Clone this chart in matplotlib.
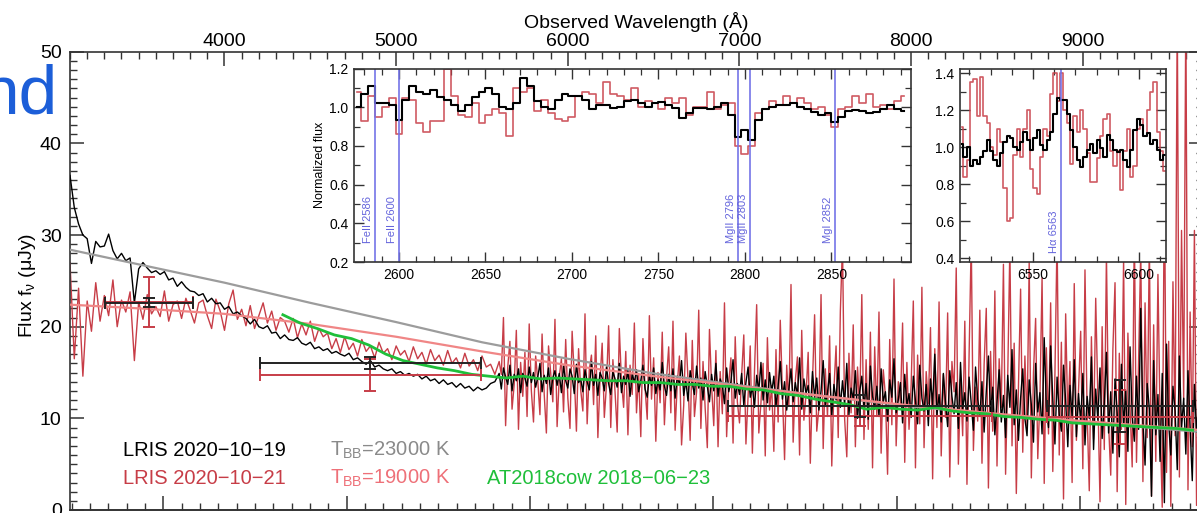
import numpy as np
import matplotlib
matplotlib.use("Agg")
import matplotlib.pyplot as plt
from matplotlib.ticker import MultipleLocator, FixedLocator, NullFormatter, FormatStrFormatter

plt.rcParams['font.family'] = ['Liberation Sans', 'DejaVu Sans']
plt.rcParams['mathtext.fontset'] = 'custom'
plt.rcParams['mathtext.rm'] = 'Liberation Sans'
plt.rcParams['mathtext.it'] = 'Liberation Sans:italic'

# ---------------- data ----------------
# LRIS spectra (observed frame, flux in uJy):
#   *_lo : 3100-5575 A in 25 A steps, *_hi : 5600-9687.5 A in 12.5 A steps
lo_start, lo_step = 3100, 25
hi_start, hi_step = 5600, 12.5

lris_1019_lo = [
    36.5, 33.0, 31.2, 30.0, 29.6, 26.9, 29.3, 28.7, 28.8, 30.1, 28.3, 27.4, 28.0, 27.2, 27.5, 22.6, 26.3, 27.0, 26.4, 25.9,
    26.1, 25.7, 26.0, 25.1, 25.3, 24.4, 24.9, 24.3, 23.9, 23.8, 23.4, 23.6, 22.7, 23.1, 22.5, 22.6, 21.9, 22.2, 21.4, 21.6,
    21.2, 20.9, 20.3, 20.8, 20.0, 19.8, 20.1, 19.3, 19.4, 18.7, 19.1, 18.6, 18.5, 18.8, 18.2, 18.0, 18.3, 17.6, 17.8, 17.4,
    17.6, 17.1, 17.3, 17.0, 16.8, 17.1, 16.4, 16.6, 16.2, 15.9, 16.3, 15.6, 15.8, 15.4, 15.2, 15.4, 14.9, 15.1, 14.7, 14.9,
    14.6, 14.8, 14.3, 14.6, 14.1, 14.3, 13.8, 14.2, 13.7, 13.9, 13.4, 13.8, 13.3, 13.5, 13.0, 13.4, 13.1, 13.3, 13.8, 14.0,
]
lris_1019_hi = [
    14.9, 13.2, 15.5, 14.5, 13.7, 15.8, 13.0, 14.8, 14.1, 15.4, 12.8, 14.9, 14.4, 13.5, 15.6, 13.9,
    15.0, 13.4, 14.5, 16.0, 12.9, 14.7, 13.8, 15.5, 12.6, 14.4, 15.2, 13.6, 14.9, 12.8, 15.7, 14.1,
    13.3, 15.4, 14.6, 12.7, 15.9, 13.9, 14.3, 12.9, 15.3, 14.0, 13.1, 16.2, 13.6, 14.8, 12.5, 15.0,
    14.4, 13.0, 15.6, 13.8, 12.6, 15.1, 14.3, 13.4, 16.0, 12.8, 14.6, 13.7, 15.2, 12.4, 14.9, 13.9,
    15.3, 12.9, 14.1, 15.8, 13.2, 12.3, 14.7, 13.6, 15.5, 12.7, 14.2, 13.1, 16.1, 13.5, 12.5, 14.8,
    13.0, 15.4, 12.2, 14.6, 13.7, 16.3, 12.5, 14.1, 11.9, 15.2, 13.8, 12.6, 15.7, 13.3, 14.4, 12.0,
    15.1, 13.5, 11.8, 14.8, 13.0, 16.0, 12.4, 14.3, 13.6, 11.6, 15.5, 12.9, 14.0, 16.4, 12.2, 13.8,
    12.6, 14.9, 11.4, 13.9, 15.6, 12.3, 13.4, 11.2, 14.7, 13.0, 16.1, 12.0, 14.2, 11.7, 15.0, 12.8,
    14.6, 11.3, 13.5, 16.2, 12.1, 14.0, 10.9, 13.2, 15.4, 11.8, 13.9, 12.5, 16.6, 11.0, 14.3, 12.7,
    13.6, 10.6, 15.1, 12.3, 14.4, 10.9, 13.0, 16.3, 11.5, 12.8, 14.9, 10.3, 13.7, 12.0, 15.6, 11.2,
    14.1, 11.6, 16.0, 10.4, 13.3, 12.1, 15.2, 10.0, 12.9, 14.6, 11.1, 13.8, 9.9, 15.7, 12.4, 11.0,
    13.5, 10.2, 15.4, 11.8, 12.9, 9.7, 14.2, 12.3, 16.5, 10.6, 12.0, 13.9, 9.5, 14.8, 11.4, 12.7,
    10.1, 14.6, 11.9, 9.4, 15.8, 12.2, 10.8, 13.7, 9.2, 14.3, 11.5, 17.0, 10.3, 12.6, 9.6, 14.9,
    11.8, 9.1, 15.2, 12.4, 10.5, 13.9, 8.9, 16.1, 11.0, 12.8, 9.7, 14.5, 11.6, 8.7, 15.6, 12.1,
    10.2, 14.0, 8.5, 12.9, 16.8, 10.6, 13.4, 8.2, 11.7, 15.3, 9.6, 12.5, 7.9, 14.7, 11.2, 17.5,
    9.3, 13.1, 7.6, 12.2, 15.4, 10.0, 8.1, 14.2, 11.5, 7.4, 16.0, 10.7, 12.8, 8.3, 18.8, 11.3,
    9.0, 17.9, 12.0, 7.2, 14.5, 10.4, 8.6, 15.8, 11.9, 6.9, 13.6, 10.1, 16.4, 8.0, 12.7, 9.5,
    14.9, 7.1, 12.4, 10.0, 16.7, 6.6, 13.2, 9.8, 15.5, 7.8, 11.6, 17.2, 8.4, 12.9, 6.2, 14.3,
    10.6, 5.8, 15.9, 9.1, 13.0, 6.4, 17.8, 10.2, 7.5, 14.6, 8.8, 22.0, 9.6, 4.9, 13.8, 11.0,
    1.5, 16.3, 8.2, 12.6, 5.3, 14.9, 0.8, 18.1, 9.4, 6.0, 13.5, 10.8, 4.4, 16.8, 8.9, 12.2,
    6.1, 15.2, 9.0, 3.2, 13.7, 8.5, 11.9, 7.0,
]

lris_1021_lo = [
    27.0, 16.5, 24.2, 14.6, 22.8, 19.5, 24.8, 20.6, 23.4, 21.2, 25.1, 20.0, 22.9, 21.6, 23.8, 16.3, 22.7, 20.8, 23.5, 21.4,
    22.2, 21.1, 23.9, 20.6, 22.4, 22.8, 20.9, 23.1, 21.8, 20.4, 22.6, 22.9, 21.2, 19.8, 23.0, 21.7, 19.6, 22.5, 24.0, 20.8,
    21.9, 20.1, 22.3, 19.8, 21.2, 22.6, 20.4, 21.7, 19.6, 21.0, 20.6, 19.4, 20.9, 18.8, 20.3, 19.1, 20.6, 18.4, 19.8, 18.9,
    19.3, 17.6, 18.7, 17.2, 18.9, 17.5, 18.2, 16.8, 18.6, 17.3, 17.9, 16.6, 18.3, 17.1, 17.6, 16.4, 17.9, 16.9, 17.4, 16.2,
    17.8, 16.5, 17.2, 15.9, 17.5, 16.3, 16.9, 15.8, 17.4, 16.0, 16.6, 15.5, 17.1, 15.7, 16.4, 15.2, 16.8, 15.6, 15.9, 14.8,
]
lris_1021_hi = [
    16.2, 14.8, 21.0, 9.2, 15.6, 18.4, 11.0, 13.7, 19.6, 8.8, 16.1, 12.4, 17.2, 10.2, 20.3, 13.0,
    9.6, 16.8, 14.1, 10.4, 19.2, 12.6, 8.4, 17.9, 15.0, 11.8, 20.8, 9.1, 14.5, 16.5, 10.7, 18.6,
    12.2, 8.9, 19.5, 14.7, 8.6, 17.6, 13.1, 10.8, 21.4, 9.4, 15.3, 16.9, 11.5, 19.0, 7.9, 14.2,
    18.2, 10.1, 13.6, 20.1, 9.0, 16.4, 12.9, 8.5, 19.8, 14.0, 11.2, 17.3, 8.2, 15.8, 12.6, 20.4,
    10.6, 14.9, 8.0, 18.7, 13.3, 9.9, 21.2, 12.1, 16.6, 7.5, 15.0, 11.7, 19.4, 9.3, 14.4, 17.8,
    10.6, 20.6, 8.7, 13.8, 16.8, 7.1, 11.4, 19.3, 14.2, 7.6, 18.5, 10.2, 12.9, 21.8, 8.9, 16.2,
    11.1, 6.8, 19.7, 13.5, 9.2, 17.4, 6.9, 15.1, 10.5, 22.6, 8.0, 13.9, 16.6, 7.3, 18.9, 11.8,
    9.5, 14.7, 19.1, 7.2, 12.4, 17.9, 6.2, 15.3, 22.4, 8.4, 11.7, 16.0, 5.9, 18.8, 10.9, 13.6,
    6.4, 17.5, 9.6, 20.7, 12.8, 5.5, 15.8, 11.3, 24.6, 7.4, 14.1, 16.7, 6.0, 19.6, 9.8, 12.5,
    17.2, 5.1, 13.9, 21.3, 8.6, 11.1, 23.5, 6.7, 15.4, 10.2, 19.0, 4.8, 13.2, 17.9, 7.9, 21.7,
    29.0, 9.9, 5.8, 17.1, 10.6, 20.2, 6.9, 15.6, 11.0, 23.5, 7.7, 16.4, 8.8, 19.4, 4.6, 17.8,
    10.2, 21.6, 6.2, 15.3, 12.5, 3.9, 18.6, 9.3, 25.2, 7.0, 14.0, 11.6, 20.4, 5.2, 16.1, 8.8,
    13.7, 22.8, 4.6, 16.9, 9.4, 24.3, 6.8, 15.1, 11.6, 19.9, 3.4, 17.6, 9.0, 22.7, 5.9, 14.8,
    10.1, 21.5, 3.6, 16.2, 12.9, 26.4, 5.0, 14.3, 8.1, 20.6, 2.8, 17.0, 29.5, 6.5, 13.4, 9.7,
    21.8, 5.1, 15.9, 22.0, 2.4, 17.3, 8.6, 23.9, 4.8, 16.5, 11.2, 26.8, 3.9, 14.6, 28.8, 7.0,
    18.2, 1.8, 13.5, 24.1, 6.3, 16.8, 9.2, 27.0, 3.5, 15.0, 20.9, 5.6, 12.2, 25.3, 2.9, 17.7,
    8.3, 22.6, 4.2, 14.9, 30.0, 6.0, 18.3, 1.2, 21.4, 9.9, 16.2, 3.0, 24.7, 7.6, 13.1, 19.5,
    4.5, 26.2, 10.6, 2.1, 18.9, 7.7, 23.1, 12.4, 0.9, 20.0, 6.6, 27.9, 9.4, 3.8, 17.5, 24.8,
    2.0, 17.1, 8.8, 27.4, 0.6, 19.3, 11.2, 4.7, 31.0, 5.2, 16.4, 28.5, 3.1, 22.6, 7.9, 29.5,
    1.5, 20.2, 5.3, 25.7, 9.6, 0.3, 36.7, 4.1, 18.4, 0.4, 24.9, 8.1, 55.0, 3.6, 30.5, 12.0,
    55.0, 2.2, 21.6, 6.9, 30.5, 0.5, 15.8, 9.2,
]

# AT2018cow comparison spectrum, 100 A steps from 4340 A
cow_start, cow_step = 4340, 100
cow_flux = [21.3, 20.4, 19.8, 19.1, 18.7, 18.0, 17.0, 16.3, 15.9, 15.5, 15.2, 14.8, 14.6, 14.4,
            14.6, 14.3, 14.4, 14.3, 14.2, 14.1, 14.1, 13.9, 13.9, 13.7, 13.7, 13.5, 13.5, 13.2,
            13.1, 12.7, 12.5, 12.1, 11.8, 11.5, 11.0, 11.2, 11.0, 10.9, 11.2, 10.8, 10.6, 10.5,
            10.2, 10.1, 9.9, 9.8, 9.5, 9.4, 9.3, 9.2, 9.1, 9.0, 8.9, 8.7]

# blackbody curves
bb_wave = [3100, 3500, 4000, 4500, 5000, 5500, 6000, 6500, 7000, 7500, 8000, 8500, 9000, 9500, 9700]
bb_23000 = [28.4, 26.8, 24.8, 22.6, 20.5, 18.3, 16.5, 14.9, 13.6, 12.4, 11.3, 10.4, 9.6, 8.8, 8.5]
bb_19000 = [22.4, 22.0, 21.4, 20.3, 18.9, 17.3, 15.8, 14.6, 13.5, 12.4, 11.4, 10.5, 9.7, 9.0, 8.7]

# broadband photometry
phot_wave = [3562, 4850, 7701, 9215]
phot_width = [257, 646, 769, 425]
phot_1019 = [22.6, 16.0, 11.35, 11.35]
phot_1019_err = [0.5, 0.65, 1.2, 2.8]
phot_1021 = [22.7, 14.7, 10.3, 10.15]
phot_1021_err = [2.7, 1.75, 1.1, 2.9]

# normalised spectra around the MgII / FeII absorption (rest frame, 4 A bins from 2576 A)
uv_start, uv_step = 2576, 4
uv_1019 = [1.00, 1.07, 1.11, 1.02, 1.02, 1.01, 0.935, 1.04, 1.11, 1.08, 1.07, 1.09, 1.055, 1.04, 1.01, 0.98,
           1.01, 1.055, 1.08, 1.10, 1.07, 1.00, 0.99, 1.02, 1.15, 1.11, 1.03, 1.00, 0.99, 1.04, 1.07, 1.06,
           1.06, 1.04, 0.99, 1.01, 1.01, 0.995, 1.00, 1.03, 1.04, 1.02, 1.00, 1.02, 1.025, 1.01, 0.995, 0.945,
           0.97, 0.995, 0.995, 0.99, 1.00, 1.02, 0.96, 0.845, 0.885, 0.83, 0.935, 0.99, 1.00, 1.01, 1.01, 1.02,
           1.00, 0.99, 0.975, 0.96, 0.97, 0.925, 0.95, 0.98, 0.985, 0.98, 0.97, 0.975, 0.99, 1.01, 0.99, 0.98]
uv_1021 = [1.08, 0.93, 1.06, 0.95, 1.00, 1.05, 0.86, 1.05, 1.04, 0.92, 0.87, 0.93, 0.93, 1.20, 1.06, 0.96,
           0.95, 1.02, 0.92, 0.96, 0.99, 0.97, 0.85, 1.10, 1.08, 1.10, 0.98, 1.04, 0.97, 0.94, 0.93, 0.95,
           1.06, 1.08, 1.07, 1.02, 1.13, 1.07, 1.06, 1.04, 1.10, 1.00, 1.03, 1.02, 0.99, 1.05, 1.02, 1.05,
           0.96, 1.00, 1.00, 1.08, 0.99, 1.01, 1.02, 0.80, 0.76, 0.80, 0.97, 0.99, 1.03, 1.01, 1.06, 1.02,
           1.05, 1.02, 0.99, 1.00, 0.96, 0.90, 0.99, 1.00, 1.06, 1.02, 1.07, 1.00, 1.01, 0.99, 1.03, 1.06]
uv_lines = [2586, 2600, 2796, 2803, 2852]
uv_line_names = ['FeII 2586', 'FeII 2600', 'MgII 2796', 'MgII 2803', 'MgI 2852']

# normalised spectra around H-alpha (rest frame)
ha_range = (6516.4, 6612.3)
ha_1019 = [1.02, 0.95, 1.0, 0.9, 0.93, 0.91, 0.95, 0.98, 1.04, 0.98, 0.93, 0.9, 0.97, 1.03, 1.06, 1.05,
           1.0, 0.985, 1.03, 1.085, 1.04, 0.985, 1.05, 1.095, 1.01, 0.985, 1.04, 1.085, 1.18, 1.265, 1.255,
           1.255, 1.18, 1.095, 1.0, 0.93, 0.895, 0.95, 0.985, 1.02, 0.97, 1.04, 0.995, 0.95, 1.065, 1.04,
           0.985, 0.975, 0.985, 0.93, 0.895, 0.985, 1.095, 1.15, 1.12, 1.06, 1.075, 1.02, 1.04, 0.985, 0.93, 0.96]
ha_1021 = [1.11, 0.84, 0.93, 1.35, 1.37, 1.17, 1.38, 1.17, 1.13, 1.0, 0.96, 1.1, 1.03, 0.78, 0.6, 0.62,
           0.96, 1.1, 0.95, 1.1, 1.2, 0.88, 0.78, 0.75, 0.95, 1.1, 1.06, 1.29, 1.4, 1.25, 1.4, 1.2, 1.13,
           0.91, 1.17, 1.08, 1.2, 1.1, 0.97, 0.81, 0.81, 0.94, 1.06, 1.15, 1.18, 0.98, 0.9, 0.98, 0.77, 0.98,
           1.1, 0.84, 0.9, 1.1, 1.15, 1.06, 1.2, 1.3, 1.35, 1.08, 0.98, 0.87]
ha_line = 6563

# ---------------- style ----------------
C_BLACK = '#000000'
C_RED = '#c73d47'
C_GRAY = '#9c9c9c'
C_PINK = '#f08686'
C_GREEN = '#1fbf3a'
C_LINE = '#7474e8'
C_SPINE = '#333333'

W, H = 1197, 513
fig = plt.figure(figsize=(W / 100, H / 100), dpi=100)


def box(x0, y0, x1, y1):
    """Axes rectangle from pixel corners (top-left origin)."""
    return [x0 / W, 1 - y1 / H, (x1 - x0) / W, (y1 - y0) / H]


def fpos(x, y):
    return x / W, 1 - y / H


ax = fig.add_axes(box(70, 51.7, 1203, 510))

wave_lo = lo_start + lo_step * np.arange(len(lris_1019_lo))
wave_hi = hi_start + hi_step * np.arange(len(lris_1019_hi))
wave = np.concatenate([wave_lo, wave_hi])
flux_1019 = np.concatenate([lris_1019_lo, lris_1019_hi])
flux_1021 = np.concatenate([lris_1021_lo, lris_1021_hi])
cow_wave = cow_start + cow_step * np.arange(len(cow_flux))

ax.plot(wave, flux_1021, color=C_RED, lw=1.0, zorder=2)
ax.plot(wave, flux_1019, color=C_BLACK, lw=1.0, zorder=3)
ax.plot(bb_wave, bb_23000, color=C_GRAY, lw=1.6, zorder=4)
ax.plot(bb_wave, bb_19000, color=C_PINK, lw=1.6, zorder=4)
ax.plot(cow_wave, cow_flux, color=C_GREEN, lw=2.0, zorder=5)
ax.errorbar(phot_wave, phot_1021, xerr=phot_width, yerr=phot_1021_err, fmt='none',
            ecolor=C_RED, elinewidth=1.4, capsize=4, capthick=1.4, zorder=6)
ax.errorbar(phot_wave, phot_1019, xerr=phot_width, yerr=phot_1019_err, fmt='none',
            ecolor='#222222', elinewidth=1.4, capsize=4, capthick=1.4, zorder=6)

ax.set_xlim(3100, 9700)
ax.set_ylim(0, 50)
for s in ax.spines.values():
    s.set_color(C_SPINE)
    s.set_linewidth(1.2)

ax.xaxis.set_major_locator(MultipleLocator(1000))
ax.xaxis.set_minor_locator(MultipleLocator(100))
ax.yaxis.set_major_locator(MultipleLocator(10))
ax.yaxis.set_minor_locator(MultipleLocator(1))
ax.xaxis.tick_top()
ax.tick_params(axis='x', which='both', direction='in', top=True, bottom=False,
               labeltop=True, labelbottom=False, labelsize=14, color=C_SPINE, pad=1.5)
ax.tick_params(axis='y', which='both', direction='in', left=True, right=True,
               labelsize=14, color=C_SPINE, pad=6)
ax.tick_params(which='major', length=10, width=1.1)
ax.tick_params(which='minor', length=5, width=1.0)
ax.xaxis.set_label_position('top')
ax.set_xlabel('Observed Wavelength (Å)', fontsize=14, labelpad=3)
ax.set_ylabel('Flux f$_\\mathregular{ν}$ (μJy)', fontsize=14)
ax.yaxis.set_label_coords(-0.028, 0.49)

# rest-frame ticks along the lower edge
secx = ax.secondary_xaxis('bottom')
secx.xaxis.set_major_locator(FixedLocator(np.arange(3644, 9700, 1068)))
secx.xaxis.set_minor_locator(FixedLocator(np.arange(3644 - 5 * 106.8, 9700, 106.8)))
secx.xaxis.set_major_formatter(NullFormatter())
secx.tick_params(axis='x', which='both', direction='in', color=C_SPINE, labelbottom=False)
secx.tick_params(which='major', length=10, width=1.1)
secx.tick_params(which='minor', length=5, width=1.0)
secx.spines['bottom'].set_color(C_SPINE)
secx.spines['bottom'].set_linewidth(1.2)

# key
fig.text(*fpos(123, 450), 'LRIS 2020−10−19', color=C_BLACK, fontsize=14.5, va='center')
fig.text(*fpos(123, 478), 'LRIS 2020−10−21', color=C_RED, fontsize=14.5, va='center')
fig.text(*fpos(330, 450), 'T$_\\mathregular{BB}$=23000 K', color='#8a8a8a', fontsize=14.5, va='center')
fig.text(*fpos(330, 478), 'T$_\\mathregular{BB}$=19000 K', color='#ee7078', fontsize=14.5, va='center')
fig.text(*fpos(487, 478), 'AT2018cow 2018−06−23', color=C_GREEN, fontsize=14.5, va='center')

fig.text(*fpos(58, 113), 'nd', color='#1c5ed8', fontsize=50, ha='right', va='baseline')


def style_inset(a):
    for s in a.spines.values():
        s.set_color(C_SPINE)
        s.set_linewidth(1.2)
    a.tick_params(which='both', direction='in', top=True, right=True, labelsize=10,
                  color=C_SPINE, pad=4)
    a.tick_params(which='major', length=7, width=1.0)
    a.tick_params(which='minor', length=4, width=0.9)
    a.xaxis.set_major_locator(MultipleLocator(50))
    a.xaxis.set_minor_locator(MultipleLocator(10))
    a.yaxis.set_major_locator(MultipleLocator(0.2))
    a.yaxis.set_minor_locator(MultipleLocator(0.1))
    a.yaxis.set_major_formatter(FormatStrFormatter('%.1f'))


# inset: MgII / FeII absorption
ax1 = fig.add_axes(box(354, 68.6, 911, 262), zorder=10)
uv_wave = uv_start + uv_step * np.arange(len(uv_1019))
ax1.plot(uv_wave, uv_1021, color=C_RED, lw=1.2, drawstyle='steps-mid', alpha=0.85)
ax1.plot(uv_wave, uv_1019, color=C_BLACK, lw=1.5, drawstyle='steps-mid')
for lam, name in zip(uv_lines, uv_line_names):
    ax1.axvline(lam, color=C_LINE, lw=1.2)
    ax1.text(lam - 1.0, 0.30, name, rotation=90, ha='right', va='bottom',
             fontsize=8, color='#6464dc')
ax1.set_xlim(2574, 2896)
ax1.set_ylim(0.2, 1.2)
style_inset(ax1)
ax1.set_ylabel('Normalized flux', fontsize=9, labelpad=2)

# inset: H-alpha
ax2 = fig.add_axes(box(960, 68.6, 1166, 262), zorder=10)
ha_wave_b = np.linspace(ha_range[0], ha_range[1], len(ha_1019))
ha_wave_r = np.linspace(ha_range[0], ha_range[1], len(ha_1021))
ax2.plot(ha_wave_r, ha_1021, color=C_RED, lw=1.2, drawstyle='steps-mid', alpha=0.85)
ax2.plot(ha_wave_b, ha_1019, color=C_BLACK, lw=1.5, drawstyle='steps-mid')
ax2.axvline(ha_line, color=C_LINE, lw=1.2)
ax2.text(ha_line - 0.8, 0.43, 'Hα 6563', rotation=90, ha='right', va='bottom',
         fontsize=8, color='#6464dc')
ax2.set_xlim(6515.6, 6612.7)
ax2.set_ylim(0.38, 1.425)
style_inset(ax2)

fig.savefig('out.png', dpi=100)
